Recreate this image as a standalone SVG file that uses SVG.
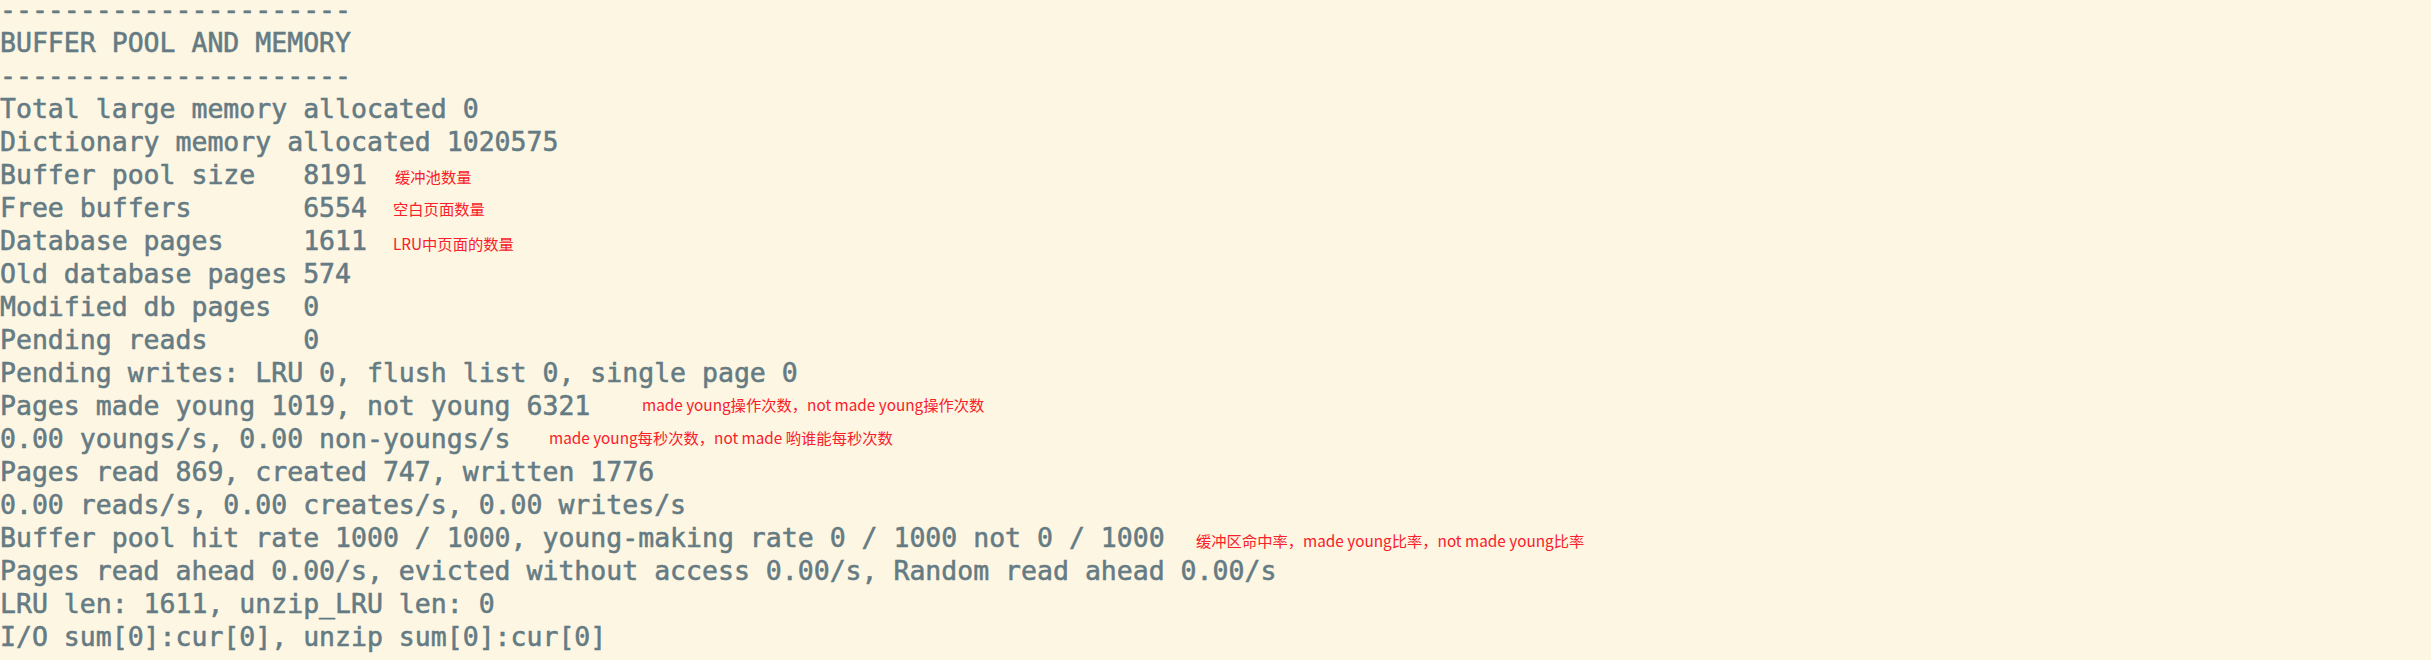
<svg xmlns="http://www.w3.org/2000/svg" width="2431" height="660" viewBox="0 0 2431 660">
<style>
.t{font-family:"DejaVu Sans Mono","Liberation Mono",monospace;font-size:26.5px;fill:#657b83;stroke:#657b83;stroke-width:0.55px;white-space:pre}
.a{font-family:"Microsoft YaHei","Noto Sans CJK SC",sans-serif;font-size:15.3px;fill:#f8202a}
</style>
<rect width="2431" height="660" fill="#fdf6e3"/>
<g id="output">
<text class="t" x="0" y="19.3" xml:space="preserve">----------------------</text>
<text class="t" x="0" y="52.3" xml:space="preserve">BUFFER POOL AND MEMORY</text>
<text class="t" x="0" y="85.3" xml:space="preserve">----------------------</text>
<text class="t" x="0" y="118.3" xml:space="preserve">Total large memory allocated 0</text>
<text class="t" x="0" y="151.3" xml:space="preserve">Dictionary memory allocated 1020575</text>
<text class="t" x="0" y="184.3" xml:space="preserve">Buffer pool size   8191</text>
<text class="t" x="0" y="217.3" xml:space="preserve">Free buffers       6554</text>
<text class="t" x="0" y="250.3" xml:space="preserve">Database pages     1611</text>
<text class="t" x="0" y="283.3" xml:space="preserve">Old database pages 574</text>
<text class="t" x="0" y="316.3" xml:space="preserve">Modified db pages  0</text>
<text class="t" x="0" y="349.3" xml:space="preserve">Pending reads      0</text>
<text class="t" x="0" y="382.3" xml:space="preserve">Pending writes: LRU 0, flush list 0, single page 0</text>
<text class="t" x="0" y="415.3" xml:space="preserve">Pages made young 1019, not young 6321</text>
<text class="t" x="0" y="448.3" xml:space="preserve">0.00 youngs/s, 0.00 non-youngs/s</text>
<text class="t" x="0" y="481.3" xml:space="preserve">Pages read 869, created 747, written 1776</text>
<text class="t" x="0" y="514.3" xml:space="preserve">0.00 reads/s, 0.00 creates/s, 0.00 writes/s</text>
<text class="t" x="0" y="547.3" xml:space="preserve">Buffer pool hit rate 1000 / 1000, young-making rate 0 / 1000 not 0 / 1000</text>
<text class="t" x="0" y="580.3" xml:space="preserve">Pages read ahead 0.00/s, evicted without access 0.00/s, Random read ahead 0.00/s</text>
<text class="t" x="0" y="613.3" xml:space="preserve">LRU len: 1611, unzip_LRU len: 0</text>
<text class="t" x="0" y="646.3" xml:space="preserve">I/O sum[0]:cur[0], unzip sum[0]:cur[0]</text>
</g>
<g id="annotations">
<text class="a" x="395" y="182.5">缓冲池数量</text>
<text class="a" x="393" y="215">空白页面数量</text>
<text class="a" x="393" y="249.5">LRU中页面的数量</text>
<text class="a" x="642" y="411">made young操作次数，not made young操作次数</text>
<text class="a" x="549" y="444">made young每秒次数，not made 哟谁能每秒次数</text>
<text class="a" x="1196" y="547">缓冲区命中率，made young比率，not made young比率</text>
</g>
</svg>
